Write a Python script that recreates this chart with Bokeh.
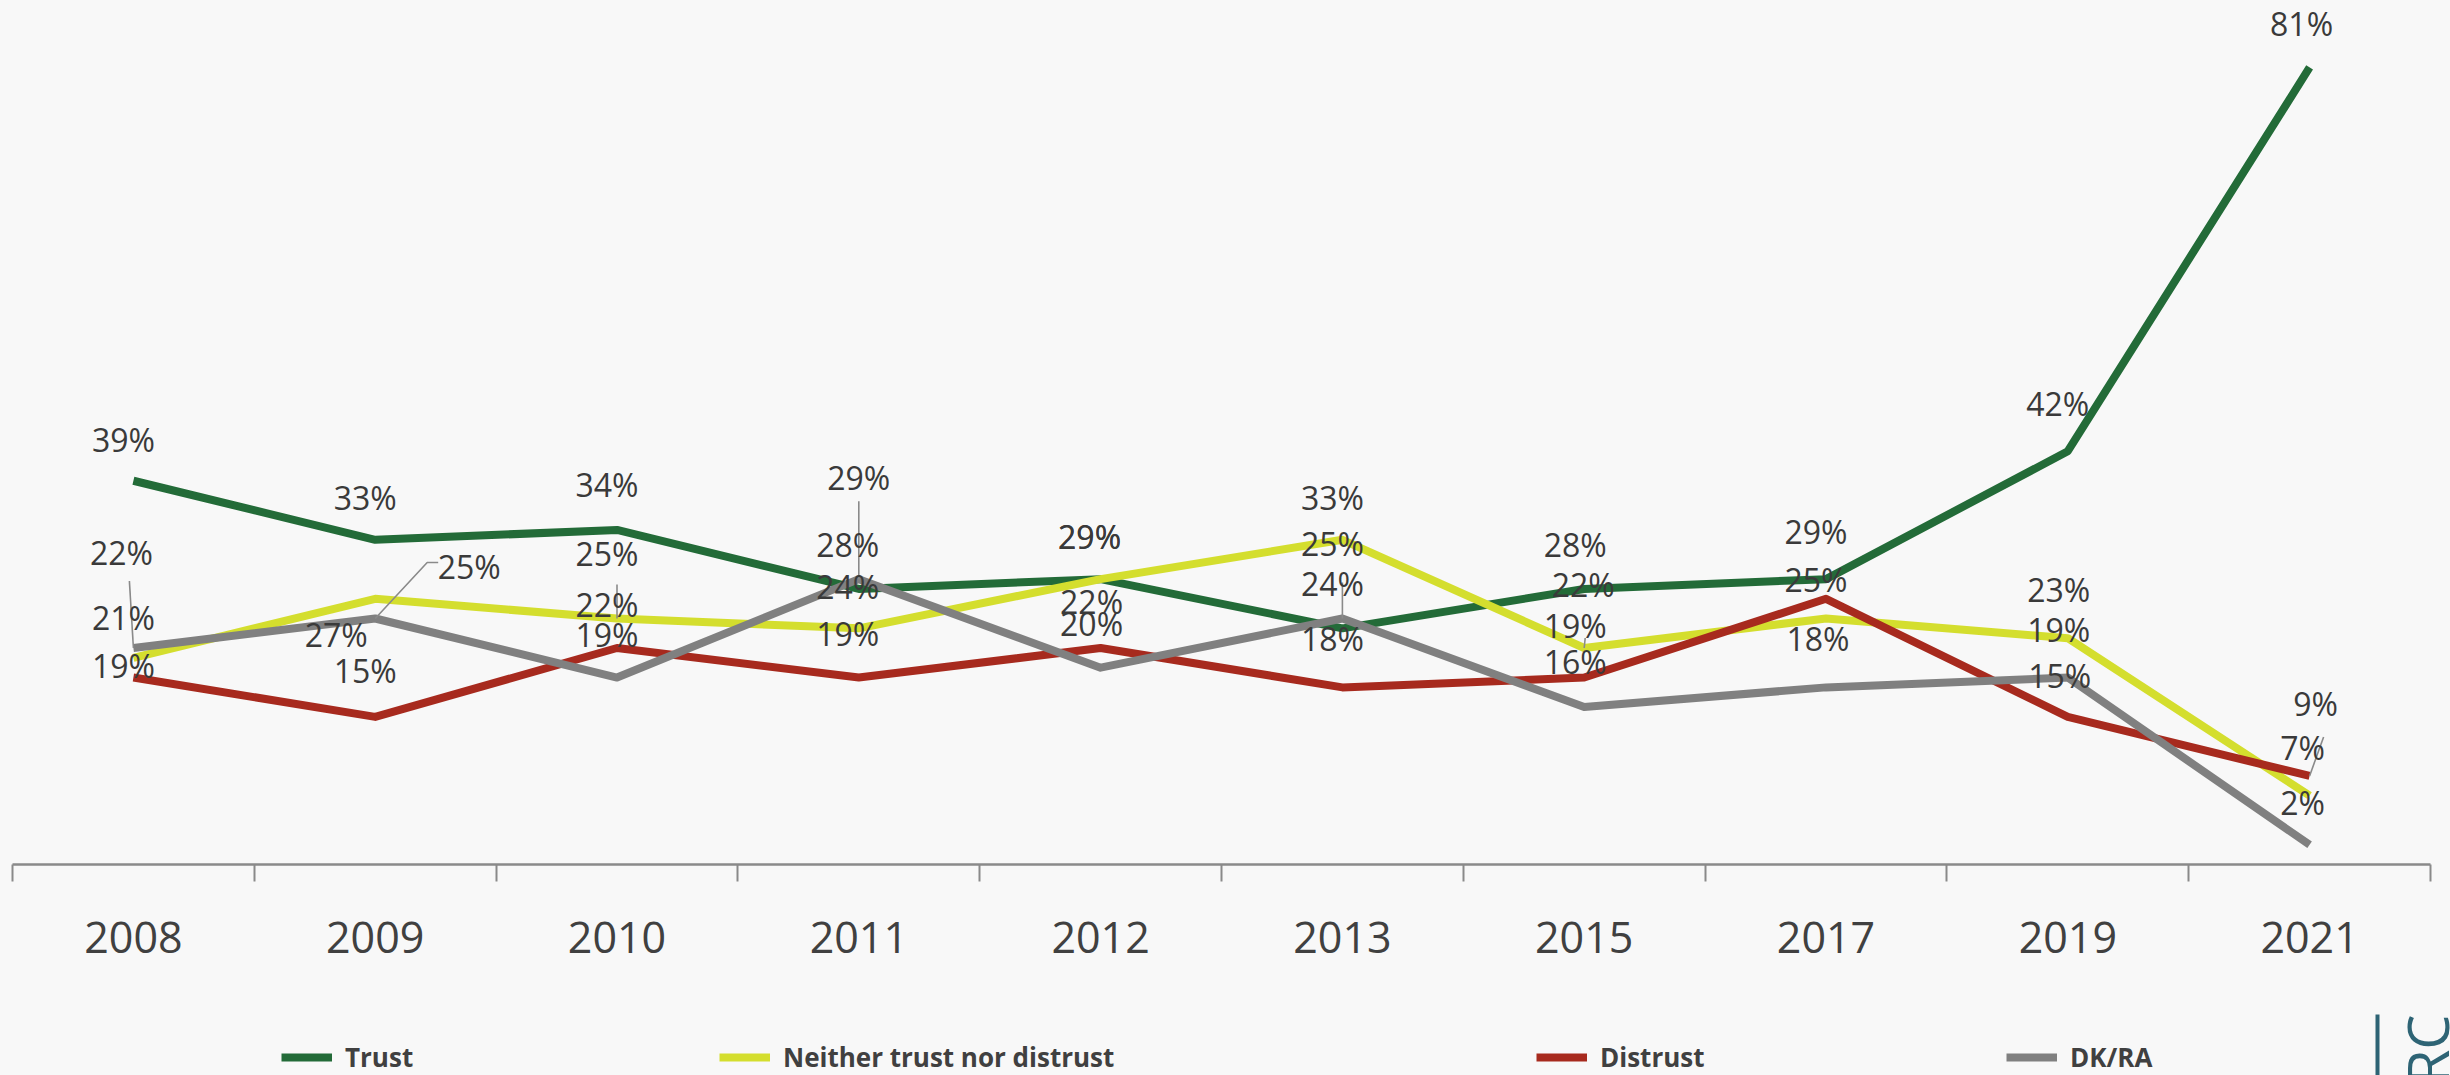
import math
from bokeh.plotting import figure
from bokeh.models import (Range1d, LinearAxis, FixedTicker, Legend, LegendItem,
                          ColumnDataSource, GlobalInlineStyleSheet)
from bokeh.core.properties import value
from bokeh.embed import file_html
from bokeh.resources import INLINE

# ---------------- data ----------------
years = ["2008", "2009", "2010", "2011", "2012", "2013", "2015", "2017", "2019", "2021"]
trust = [39, 33, 34, 28, 29, 24, 28, 29, 42, 81]
neither = [21, 27, 25, 24, 29, 33, 22, 25, 23, 7]
distrust = [19, 15, 22, 19, 22, 18, 19, 27, 15, 9]
dkra = [22, 25, 19, 29, 20, 25, 16, 18, 19, 2]
series_names = ["Trust", "Neither trust nor distrust", "Distrust", "DK/RA"]
# which data labels are shown (Distrust 2017 carries no label in the original)
distrust_shown = [True, True, True, True, True, True, True, False, True, True]

# ---------------- styles / layout ----------------
colors = ["#236B38", "#D4DE2E", "#A72A1E", "#808080"]
W, H = 2450, 1075
PX_X = 241.8          # pixels per category
PX_Y = 9.84           # pixels per percentage point
AX_LEFT = 12          # figure px of first category boundary
AX_Y = 864            # figure px of 0 %

# label offsets (pixels, screen direction) relative to each point
off_trust = [(-10, -41), (-10, -42), (-10, -45), (-11, -44), (-11, -43),
             (-10, -45), (-9, -44), (-10, -48), (-10, -48), (-8, -44)]
off_neither = [(-10, -40), (-39, 36), (-10, -65), (-11, -42), (-11, -43),
               (-10, -42), (-1, -64), (-10, -39), (-9, -49), (-7, -48)]
off_distrust = [(-10, -12), (-10, -46), (-10, -44), (-11, -44), (-9, -47),
                (-10, -49), (-9, -52), (0, 0), (-8, -41), (6, -72)]
off_dkra = [(-12, -96), (94, -52), (-10, -43), (0, -102), (-9, -44),
            (-10, -75), (-9, -46), (-8, -49), (-9, -48), (-7, -42)]
# leader lines: (series index, category index, list of pixel offsets)
leaders = [
    (3, 0, [(0, 0), (-4, -67)]),
    (3, 1, [(0, 0), (52, -56), (63, -56)]),
    (1, 2, [(0, 0), (0, -34)]),
    (3, 3, [(0, 0), (0, -78)]),
    (3, 5, [(0, 0), (0, -36)]),
    (1, 6, [(0, 0), (1, -10)]),
    (2, 9, [(0, 0), (14, -39)]),
]
legend_x = [281, 719, 1536, 2006]

x_start = -0.5 - AX_LEFT / PX_X
x_end = x_start + W / PX_X
y_end = AX_Y / PX_Y
y_start = y_end - H / PX_Y


def fx(px):
    return x_start + px / PX_X


def fy(py):
    return y_end - py / PX_Y


BG = "#f8f8f8"
p = figure(width=W, height=H, x_range=Range1d(x_start, x_end), y_range=Range1d(y_start, y_end),
           x_axis_type=None, y_axis_type=None, toolbar_location=None, output_backend="svg",
           min_border=0, outline_line_color=None, background_fill_color=BG, border_fill_color=BG)
p.stylesheets = [GlobalInlineStyleSheet(css="html, body { background-color: #f8f8f8; }")]

idx = list(range(len(years)))
xaxis = LinearAxis(fixed_location=0, bounds=(-0.5, len(years) - 0.5),
                   ticker=FixedTicker(ticks=idx, minor_ticks=[i - 0.5 for i in range(len(years) + 1)]),
                   major_label_overrides={i: y for i, y in enumerate(years)})
xaxis.axis_line_color = "#8a8a8a"
xaxis.axis_line_width = 2.5
xaxis.major_tick_line_color = None
xaxis.major_tick_in = 0
xaxis.major_tick_out = 0
xaxis.minor_tick_line_color = "#8a8a8a"
xaxis.minor_tick_line_width = 2
xaxis.minor_tick_in = 0
xaxis.minor_tick_out = 17
xaxis.major_label_standoff = 40
xaxis.major_label_text_font = "Open Sans"
xaxis.major_label_text_font_size = "43px"
xaxis.major_label_text_color = "#404040"
p.add_layout(xaxis, "below")

all_vals = [trust, neither, distrust, dkra]
all_offs = [off_trust, off_neither, off_distrust, off_dkra]
all_shown = [[True] * len(years), [True] * len(years), distrust_shown, [True] * len(years)]

renderers = []
for vals, col in zip(all_vals, colors):
    src = ColumnDataSource(dict(x=idx, y=vals))
    r = p.line("x", "y", source=src, line_color=col, line_width=8, line_join="round")
    renderers.append(r)

# leader lines
lx, ly = [], []
for s, i, pts in leaders:
    v = all_vals[s][i]
    lx.append([i + dx / PX_X for dx, dy in pts])
    ly.append([v - dy / PX_Y for dx, dy in pts])
p.multi_line(lx, ly, line_color="#8a8a8a", line_width=1.6)

# data labels
tx, ty, tt, tdx, tdy = [], [], [], [], []
for vals, offs, shown in zip(all_vals, all_offs, all_shown):
    for i, v in enumerate(vals):
        if not shown[i]:
            continue
        tx.append(i)
        ty.append(v)
        tt.append(f"{v}%")
        tdx.append(offs[i][0])
        tdy.append(offs[i][1])
lab_src = ColumnDataSource(dict(x=tx, y=ty, text=tt, dx=tdx, dy=tdy))
p.text("x", "y", text="text", x_offset="dx", y_offset="dy", source=lab_src,
       text_font=value("Open Sans"), text_font_size="32px", text_color="#3a3a3a",
       text_align="center", text_baseline="middle")

# legends (one per item to reproduce the original spacing)
for name, r, lxp in zip(series_names, renderers, legend_x):
    lg = Legend(items=[LegendItem(label=name, renderers=[r])], location=(lxp, 0),
                orientation="horizontal", padding=0, margin=0, spacing=0,
                border_line_color=None, background_fill_alpha=0,
                glyph_width=51, glyph_height=30, label_standoff=13,
                label_text_font="Open Sans", label_text_font_style="bold",
                label_text_font_size="26px", label_text_color="#404040")
    p.add_layout(lg)

# logo fragment at the bottom right
LOGO = "#2E6475"
p.quad(left=[fx(2375)], right=[fx(2379)], top=[fy(1014)], bottom=[fy(1080)],
       fill_color=LOGO, line_color=None)
p.text([fx(2426)], [fy(1014)], text=["CRRC"], angle=math.pi / 2,
       text_font=value("Open Sans"), text_font_size="56px", text_color=LOGO,
       text_align="right", text_baseline="middle")

open("out.html", "w").write(file_html(p, INLINE))
